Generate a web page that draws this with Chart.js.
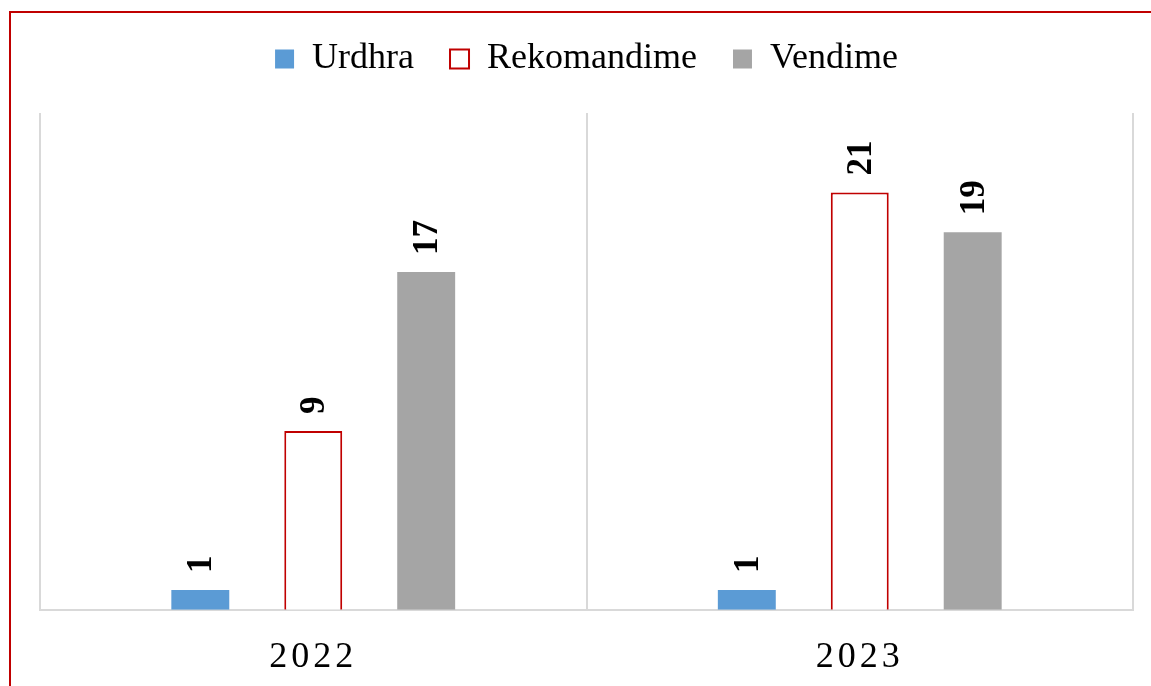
<!DOCTYPE html>
<html>
<head>
<meta charset="utf-8">
<script src="https://cdn.jsdelivr.net/npm/chart.js@4.4.1/dist/chart.umd.min.js"></script>
<style>
  html, body { margin: 0; padding: 0; background: #fff; overflow: hidden; }
  #frame { position: absolute; left: 9px; top: 11px; width: 1300px; height: 900px;
           border-top: 2px solid #c00000; border-left: 2px solid #c00000; }
  #wrap { position: absolute; left: 0; top: 0; width: 1151px; height: 713px; }
</style>
</head>
<body>
<div id="frame"></div>
<div id="wrap"><canvas id="chartVendime"></canvas></div>
<script>
const years = ['2022', '2023'];
const urdhra = [1, 1];
const rekomandime = [9, 21];
const vendime = [17, 19];
const yMax = 25;

const serif = "'Liberation Serif', 'Times New Roman', serif";

// etiketat e vlerave, te kthyera vertikalisht mbi shtylla
const valueLabels = {
  id: 'valueLabels',
  afterDatasetsDraw(chart) {
    const ctx = chart.ctx;
    chart.data.datasets.forEach((ds, i) => {
      chart.getDatasetMeta(i).data.forEach((bar, j) => {
        ctx.save();
        ctx.translate(bar.x, bar.y - 17);
        ctx.rotate(-Math.PI / 2);
        ctx.font = 'bold 35px ' + serif;
        ctx.fillStyle = '#000';
        ctx.textAlign = 'left';
        ctx.textBaseline = 'middle';
        ctx.fillText(ds.data[j], 0, 2);
        ctx.restore();
      });
    });
  }
};

// me shume hapesire poshte legjendes
const legendGap = {
  id: 'legendGap',
  beforeInit(chart) {
    const fit = chart.legend.fit;
    chart.legend.fit = function () {
      fit.bind(chart.legend)();
      this.height += 26;
    };
  }
};

// hapesire mes shkronjave te viteve
const spacedTicks = {
  id: 'spacedTicks',
  afterLayout(chart) {
    const x = chart.scales.x;
    if (x._spaced) return;
    x._spaced = true;
    const orig = x.drawLabels;
    x.drawLabels = function (area) {
      chart.ctx.save();
      chart.ctx.letterSpacing = '4px';
      orig.call(this, area);
      chart.ctx.restore();
    };
  }
};

const ctx = document.getElementById('chartVendime');
new Chart(ctx, {
  type: 'bar',
  data: {
    labels: years,
    datasets: [
      { label: 'Urdhra', data: urdhra, backgroundColor: '#5b9bd5', borderWidth: 0 },
      { label: 'Rekomandime', data: rekomandime, backgroundColor: '#ffffff', borderColor: '#c00000', borderWidth: 2 },
      { label: 'Vendime', data: vendime, backgroundColor: '#a5a5a5', borderWidth: 0 }
    ]
  },
  options: {
    responsive: true,
    maintainAspectRatio: false,
    animation: false,
    categoryPercentage: 0.62,
    barPercentage: 0.513,
    layout: { padding: { top: 5, left: 40, right: 18, bottom: 8 } },
    plugins: {
      tooltip: { enabled: false },
      legend: {
        position: 'top',
        labels: {
          boxWidth: 19,
          boxHeight: 19,
          padding: 36,
          color: '#000',
          font: { family: serif, size: 36 }
        }
      }
    },
    scales: {
      x: {
        grid: { offset: true, color: '#d9d9d9', lineWidth: 2, drawTicks: false },
        border: { display: true, color: '#d9d9d9', width: 2 },
        ticks: { color: '#000', padding: 26, font: { family: serif, size: 36 } }
      },
      y: {
        display: false,
        min: 0,
        max: yMax
      }
    }
  },
  plugins: [valueLabels, legendGap, spacedTicks]
});
</script>
</body>
</html>
